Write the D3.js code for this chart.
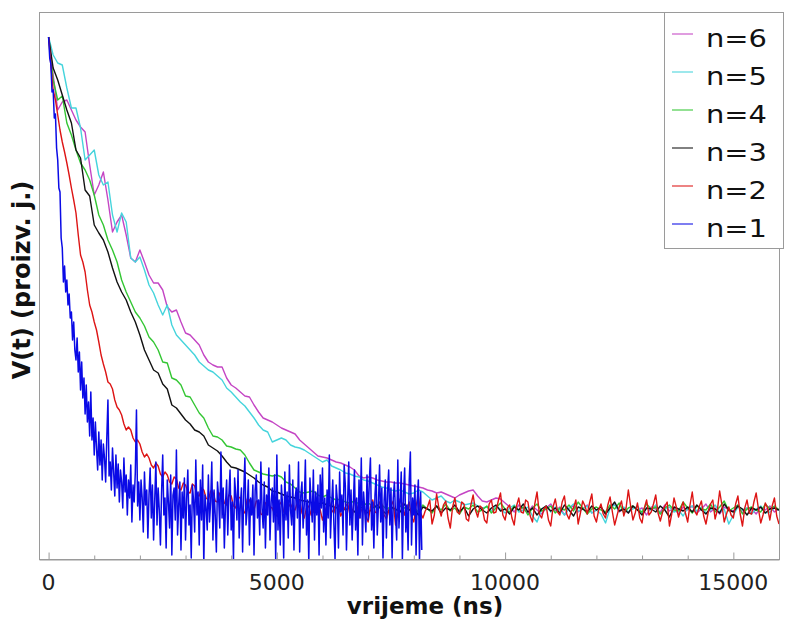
<!DOCTYPE html>
<html>
<head>
<meta charset="utf-8">
<script src="https://cdn.jsdelivr.net/npm/d3@7"></script>
<style>
  body { margin: 0; background: #fff; }
  svg { display: block; font-family: "DejaVu Sans", Verdana, sans-serif; }
</style>
</head>
<body>
<svg id="chart" width="785" height="628"></svg>
<script>
// sampling steps (ns) of the recorded traces
const dt = 100
const dtRed = 50
const dtBlue = 25

// V(t), arbitrary units (baseline ~ 0, peak ~ 473)
const n6 = [
  473, 435, 400, 408, 410, 400, 390, 383, 378, 345,
  315, 325, 338, 310, 278, 288, 295, 275, 252, 248,
  260, 248, 235, 227, 227, 220, 203, 198, 200, 188,
  177, 175, 170, 165, 155, 148, 145, 143, 143, 132,
  125, 122, 118, 114, 113, 105, 98, 92, 90, 88,
  85, 82, 80, 78, 76, 70, 66, 62, 58, 54,
  53, 52, 50, 48, 47, 45, 43, 40, 34, 32,
  33, 32, 30, 29, 28, 28, 27, 27, 26, 25,
  24, 23, 22, 20, 19, 17, 18, 16, 14, 12,
  15, 17, 19, 20, 14, 9, 8, 10, 12, 11,
  7, 3, -2, 5, 1, -3, 4, 0, -4, 2,
  6, -1, 3, -5, 2, 4, -2, 1, 5, -3,
  0, 3, -4, 2, 6, -2, 1, -3, 4, 0,
  2, -5, 3, 1, -2, 5, -1, 2, -4, 3,
  0, 4, -3, 1, 6, -2, 2, -4, 3, 0,
  -1, 5, -3, 2, 1, -4, 3, 0, 4, -2,
  1
]
const n5 = [
  473, 455, 447, 445, 422, 402, 402, 382, 350, 355,
  360, 335, 325, 328, 295, 278, 297, 288, 252, 248,
  253, 240, 225, 217, 205, 195, 205, 185, 175, 170,
  165, 160, 155, 148, 144, 140, 138, 134, 130, 122,
  118, 113, 108, 104, 98, 92, 85, 80, 78, 68,
  70, 72, 70, 65, 63, 62, 60, 57, 54, 51,
  48, 50, 44, 42, 40, 37, 36, 34, 33, 30,
  29, 27, 25, 23, 22, 20, 19, 20, 18, 16,
  17, 20, 18, 14, 10, 12, 14, 9, 7, 10,
  8, 5, 6, 7, 4, 2, 3, -1, 4, 1,
  -3, 2, 5, -2, 0, 3, -6, -12, 1, 4,
  -2, 3, 0, -5, 2, 6, -1, 1, 4, -3,
  0, -4, -13, 2, 5, -1, 3, -2, 1, 4,
  -3, 2, 0, 5, -4, 1, 3, -2, 0, -6,
  2, 4, -1, 3, -3, 0, 5, -2, 1, -14,
  -5, 3, 0, 2, -4, 1, 4, -3, -2, 2,
  0
]
const n4 = [
  473, 430, 410, 414, 387, 375, 360, 347, 340, 330,
  315, 295, 285, 270, 260, 248, 230, 218, 208, 198,
  192, 184, 173, 168, 160, 148, 147, 132, 130, 125,
  114, 113, 105, 97, 92, 82, 74, 73, 70, 64,
  63, 61, 60, 55, 47, 40, 38, 36, 35, 34,
  35, 33, 28, 26, 22, 18, 17, 18, 19, 15,
  13, 15, 12, 10, 11, 8, 7, 9, 6, 5,
  7, 4, 2, 5, 1, 3, -1, 4, 2, 0,
  3, -2, 5, 1, -3, 4, 0, 6, -1, 2,
  -4, 3, 1, 5, -2, 0, 4, -3, 2, 7,
  1, -2, 4, 0, 3, -5, 2, 6, -1, 1,
  4, -3, 2, 0, 5, -1, 8, 2, -4, 1,
  3, 0, -2, 5, 1, 7, -3, 2, 4, 0,
  -2, 6, 1, 3, -4, 2, 5, 0, -1, 8,
  2, -3, 4, 1, 0, 6, -2, 3, 9, -1,
  2, 5, -4, 1, 3, 0, -2, 6, 1, 4,
  0
]
const n3 = [
  473, 442, 430, 415, 400, 387, 360, 352, 320, 314,
  285, 277, 270, 258, 242, 228, 218, 210, 198, 188,
  175, 160, 150, 140, 137, 126, 121, 105, 102, 96,
  90, 86, 80, 78, 74, 65, 62, 59, 54, 48,
  43, 42, 40, 38, 35, 32, 28, 25, 23, 19,
  18, 16, 14, 13, 12, 10, 9, 8, 7, 6,
  7, 5, 4, 2, 5, 0, 3, -2, 4, 1,
  -3, 2, 5, 0, -4, 3, 1, -2, 6, 0,
  2, -5, 3, 1, -1, 4, -3, 2, 0, 5,
  -2, 3, -6, 1, 4, 0, -3, 2, 5, -1,
  1, -4, 3, 0, 6, -2, 2, -5, 1, 4,
  -1, 2, -3, 5, 0, -6, 3, 1, -2, 4,
  0, 3, -4, 2, 8, -1, 1, -3, 4, 0,
  -5, 2, 1, -2, 4, 0, -7, 3, 1, -1,
  3, -2, 5, 0, -4, 2, 1, -3, 6, 0,
  -2, 4, 1, -5, 2, 0, 3, -3, 1, 2,
  0
]
// n=2, one row per microsecond
const n2 = [
  473, 445, 420, 410, 395, 380, 368, 358, 347, 335, 322, 310, 297, 275, 255, 248, 238, 220, 205, 198,
  188, 180, 168, 155, 146, 138, 128, 126, 121, 110, 103, 100, 95, 86, 80, 83, 80, 72, 68, 70,
  66, 58, 53, 56, 52, 45, 42, 47, 44, 36, 33, 38, 35, 28, 26, 33, 31, 22, 20, 27,
  25, 18, 17, 26, 24, 15, 14, 22, 20, 12, 10, 19, 18, 9, 8, 17, 16, 7, 5, 15,
  14, 4, 2, 13, 12, -1, -3, 11, 10, 2, 0, 9, 8, -4, -5, 7, 9, 3, 2, -4,
  -6, 5, 8, -2, -4, 3, 6, 1, 0, 8, 10, -3, -8, 2, 4, -5, -2, 9, 7, 0,
  -10, -2, 5, 8, 0, -3, 9, 4, -6, -1, 3, 7, -4, -8, 12, 5, -8, 0, 2, -6,
  -12, 3, 10, -2, -3, 8, 6, -5, -9, -1, 4, 9, -15, -4, 11, 6, -5, 2, 8, -7,
  -12, 4, 14, -3, -8, -1, 3, 10, -14, -5, 16, 2, -6, 5, 9, -8, -18, 3, 12, -2,
  -4, 8, 6, -9, -11, 5, 15, 0, -7, 4, 2, -10, -13, 6, 10, -3, -2, 9, 17, -5,
  -10, 2, 5, -8, -15, 4, 12, -2, -3, 10, 8, -6, -12, 6, 18, -4, -8, 1, 4, -10,
  -16, 3, 11, -2, -5, 8, 14, -4, -9, -1, 2, 10, -14, -3, 9, 4, -4, 7, 16, -6,
  -12, 0, 6, -4, -8, 5, 13, -2, -15, -6, 3, 9, -6, 2, 20, 4, -10, -3, 7, -8,
  -13, 2, 10, -5, -2, 6, 15, -3, -11, -2, 4, 8, -16, -4, 12, 3, -7, 1, 8, -3,
  -12, 5, 18, -1, -5, 3, 9, -6, -14, -2, 6, 10, -9, 0, 19, 5, -12, -4, 3, -5,
  -8, 6, 14, -4, -16, 2, 10, -3, -4, 8, 17, 1, -13, -5, 7, 2, -10, 4, 12, -6,
  -14
]
// n=1 was recorded only up to ~8.2 us; one row per 500 ns
const n1 = [
  473, 452, 446, 418, 420, 392, 396, 362, 350, 322, 318, 272, 262, 228, 244, 218, 230, 205, 216, 192,
  198, 170, 188, 160, 150, 172, 138, 158, 120, 148, 112, 132, 96, 125, 88, 108, 74, 118, 70, 92,
  55, 88, 62, 40, 78, 45, 70, 30, 66, 52, 28, 72, 110, 34, 48, 20, 62, 38, 14, 55,
  22, 46, 8, 40, 28, 2, 52, 18, 35, -5, 30, 12, 45, -12, 25, 8, 38, 100, 4, 28,
  -10, 30, 12, -22, 38, 5, 20, -28, 15, 42, -8, 25, -30, 10, 48, -15, 22, 0, -35, 18,
  55, -5, 12, -38, 30, 8, -18, 35, -45, 15, 22, -10, 60, -25, 5, 28, -40, 18, -8, 32,
  -30, 12, 40, -15, 5, -48, 25, 10, -22, 50, -5, 18, -35, 30, -10, 45, -55, 15, 2, -20,
  35, -12, 8, 48, -30, 20, -5, -42, 28, 12, -18, 58, -8, 22, -38, 5, 30, -25, 15, 40,
  -20, 8, -50, 32, 15, -10, 40, -28, 5, 22, -42, 18, 52, -15, 0, 30, -35, 12, -5, 25,
  -45, 20, 35, -8, 10, -25, 48, 2, -18, 28, -38, 15, -5, 42, -30, 8, 22, -12, 35, -50,
  55, -20, 10, -35, 25, 5, -48, 38, -10, 18, -28, 45, 0, -15, 30, -40, 12, 22, -8, 48,
  -42, 15, 28, -18, 5, 50, -25, 10, -52, 32, 8, -12, 40, -30, 18, -5, 25, -45, 35, 2,
  42, -22, 12, -35, 20, -8, 55, -28, 5, 30, -15, -50, 25, 10, -38, 38, -2, 15, -25, 45,
  25, -40, 8, 48, -15, 20, -30, 5, 40, -20, 12, -45, 30, -8, 52, -35, 18, 0, -22, 35,
  -10, 28, 52, -20, 8, -38, 15, 35, -25, 5, 45, -12, 22, -48, 10, 30, -28, 18, 40, -15,
  22, -48, 12, 28, -5, -30, 50, -18, 8, 38, -50, 15, 42, -22, 5, -40, 30, 58, -35, 12,
  -5, 25, -45, 10, 30, -52, 18, -40
]

const xTicks = [0, 5000, 10000, 15000]
const xMinorTicks = [1000, 2000, 3000, 4000, 6000, 7000, 8000, 9000, 11000, 12000, 13000, 14000, 16000]
const legendLabels = ["n=6", "n=5", "n=4", "n=3", "n=2", "n=1"]
const colors = ["#c445c4", "#45d4dc", "#33c633", "#111111", "#dd1414", "#0a0ae6"]

const series = [
    {label: "n=6", step: dt, values: n6},
    {label: "n=5", step: dt, values: n5},
    {label: "n=4", step: dt, values: n4},
    {label: "n=3", step: dt, values: n3},
    {label: "n=2", step: dtRed, values: n2},
    {label: "n=1", step: dtBlue, values: n1}
]

const svg = d3.select("#chart")
const margin = ({top: 12, right: 6, bottom: 69, left: 39})
const width = 785, height = 628

const x = d3.scaleLinear()
    .domain([-210, 16000])
    .range([margin.left, width - margin.right])

const y = d3.scaleLinear()
    .domain([-49, 498])
    .range([height - margin.bottom, margin.top])

const axisColor = "#9a9a9a"

svg.append("defs").append("clipPath")
    .attr("id", "plot")
    .append("rect")
    .attr("x", margin.left)
    .attr("y", margin.top)
    .attr("width", x.range()[1] - margin.left)
    .attr("height", y.range()[0] - margin.top)

// frame
svg.append("rect")
    .attr("x", margin.left + 0.5)
    .attr("y", margin.top + 0.5)
    .attr("width", x.range()[1] - margin.left)
    .attr("height", y.range()[0] - margin.top)
    .attr("fill", "none")
    .attr("stroke", axisColor)

// traces
const lineGen = d3.line()
    .x(d => x(d[0]))
    .y(d => y(d[1]))
    .curve(d3.curveLinear)

svg.append("g")
    .attr("clip-path", "url(#plot)")
    .selectAll("path")
    .data(series)
    .join("path")
    .attr("d", s => lineGen(s.values.map((v, i) => [i * s.step, v])))
    .attr("fill", "none")
    .attr("stroke", (s, i) => colors[i])
    .attr("stroke-width", (s, i) => i === 5 ? 1.5 : 1.4)
    .attr("stroke-linejoin", "round")

// x axis, ticks pointing inward
const xAxis = g => g
    .attr("transform", `translate(0,${y.range()[0] + 0.5})`)
    .call(d3.axisTop(x).tickValues(xTicks).tickSize(7).tickFormat(""))
    .call(g => g.select(".domain").attr("stroke", axisColor))
    .call(g => g.selectAll(".tick line").attr("stroke", axisColor))

svg.append("g").call(xAxis)

svg.append("g")
    .attr("transform", `translate(0,${y.range()[0] + 0.5})`)
    .call(d3.axisTop(x).tickValues(xMinorTicks).tickSize(4).tickFormat(""))
    .call(g => g.select(".domain").remove())
    .call(g => g.selectAll(".tick line").attr("stroke", axisColor))

svg.append("g")
    .selectAll("text")
    .data(xTicks)
    .join("text")
    .attr("x", d => x(d))
    .attr("y", 590)
    .attr("text-anchor", "middle")
    .attr("font-size", 22)
    .attr("fill", "#222")
    .text(d => d)

// axis titles
svg.append("text")
    .attr("x", 425)
    .attr("y", 614)
    .attr("text-anchor", "middle")
    .attr("font-size", 23)
    .attr("font-weight", "bold")
    .attr("fill", "#111")
    .text("vrijeme (ns)")

svg.append("text")
    .attr("transform", "translate(30,280) rotate(-90)")
    .attr("text-anchor", "middle")
    .attr("font-size", 24)
    .attr("font-weight", "bold")
    .attr("fill", "#111")
    .text("V(t) (proizv. j.)")

// legend
const legend = svg.append("g")

legend.append("rect")
    .attr("x", 664.5)
    .attr("y", 12.5)
    .attr("width", 119)
    .attr("height", 236)
    .attr("fill", "#fff")
    .attr("stroke", axisColor)

const rows = legend.selectAll("g.row")
    .data(legendLabels)
    .join("g")
    .attr("class", "row")
    .attr("transform", (d, i) => `translate(0,${47 + i * 38})`)

rows.append("line")
    .attr("x1", 672)
    .attr("x2", 693)
    .attr("y1", -13)
    .attr("y2", -13)
    .attr("stroke", (d, i) => colors[i])
    .attr("stroke-width", 1.4)
    .attr("opacity", 0.75)

rows.append("text")
    .attr("x", 706)
    .attr("y", 0)
    .attr("font-size", 25)
    .attr("fill", "#111")
    .attr("textLength", 61)
    .attr("lengthAdjust", "spacingAndGlyphs")
    .text(d => d)
</script>
</body>
</html>
